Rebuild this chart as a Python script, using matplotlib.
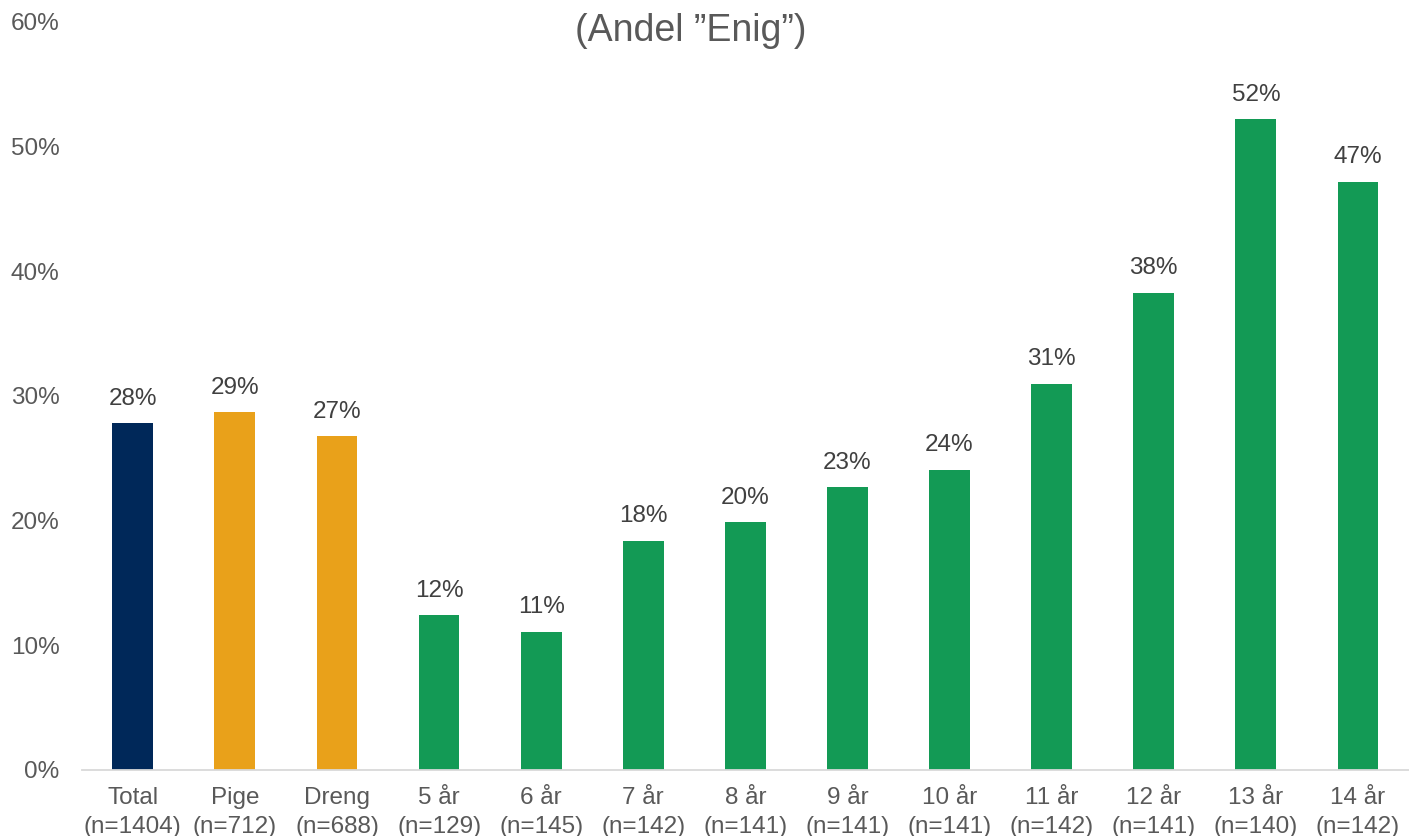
import numpy as np
import matplotlib.pyplot as plt

plt.rcParams['font.family'] = ['Liberation Sans', 'DejaVu Sans']

# data
categories = ["Total\n(n=1404)", "Pige\n(n=712)", "Dreng\n(n=688)",
              "5 år\n(n=129)", "6 år\n(n=145)", "7 år\n(n=142)", "8 år\n(n=141)",
              "9 år\n(n=141)", "10 år\n(n=141)", "11 år\n(n=142)", "12 år\n(n=141)",
              "13 år\n(n=140)", "14 år\n(n=142)"]
values = [27.8, 28.7, 26.8, 12.4, 11.1, 18.4, 19.9, 22.7, 24.1, 31.0, 38.3, 52.2, 47.2]
labels = ["28%", "29%", "27%", "12%", "11%", "18%", "20%", "23%", "24%", "31%", "38%", "52%", "47%"]
groups = ["total", "gender", "gender"] + ["age"] * 10
colors = {"total": "#002859", "gender": "#E9A11A", "age": "#139A55"}

fig = plt.figure(figsize=(14.09, 8.36), dpi=100)
ax = fig.add_axes([0.058, 0.079, 0.942, 0.8947])

x = np.arange(len(categories))
bars = ax.bar(x, values, width=0.4, color=[colors[g] for g in groups])

for b, lab in zip(bars, labels):
    ax.annotate(lab, (b.get_x() + b.get_width() / 2, b.get_height()),
                xytext=(0, 9.5), textcoords="offset points",
                ha="center", va="bottom", fontsize=17.5, color="#404040")

ax.set_xlim(-0.5, len(categories) - 0.5)
ax.set_ylim(0, 60)
ax.set_yticks(np.arange(0, 61, 10))
ax.set_yticklabels([f"{v}%" for v in range(0, 61, 10)])
ax.set_xticks(x)
ax.set_xticklabels(categories, linespacing=1.4)

ax.tick_params(axis="y", length=0, pad=16, labelsize=17.5, labelcolor="#595959")
ax.tick_params(axis="x", length=0, pad=12.5, labelsize=17.5, labelcolor="#595959")

for s in ["top", "right", "left"]:
    ax.spines[s].set_visible(False)
ax.spines["bottom"].set_color("#D9D9D9")
ax.spines["bottom"].set_linewidth(1.3)

fig.text(0.49, 0.963, "(Andel ”Enig”)", ha="center", va="center",
         fontsize=27, color="#595959")

fig.savefig("out.png", dpi=100)
